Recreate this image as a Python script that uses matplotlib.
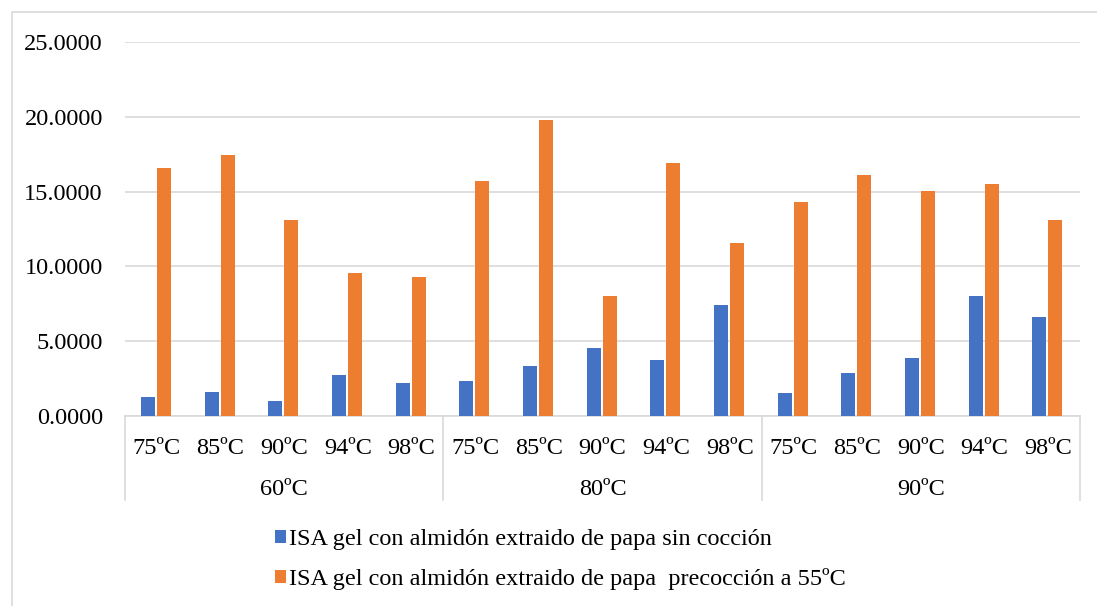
import numpy as np
import matplotlib.pyplot as plt
from matplotlib.patches import Rectangle
from matplotlib.ticker import FormatStrFormatter

# ---- Data ----
groups = ["60ºC", "80ºC", "90ºC"]
temps = ["75ºC", "85ºC", "90ºC", "94ºC", "98ºC"]
sin_coccion = [1.27, 1.60, 1.00, 2.74, 2.20,
               2.36, 3.32, 4.55, 3.77, 7.44,
               1.56, 2.90, 3.86, 8.00, 6.60]
precoccion = [16.58, 17.45, 13.10, 9.56, 9.29,
              15.70, 19.76, 8.00, 16.90, 11.54,
              14.28, 16.09, 15.02, 15.49, 13.10]
series_names = ["ISA gel con almidón extraido de papa sin cocción",
                "ISA gel con almidón extraido de papa  precocción a 55ºC"]

plt.rcParams['font.family'] = ['Liberation Serif', 'DejaVu Serif']
grid_col = "#d9d9d9"
fs = 17.5

fig = plt.figure(figsize=(10.97, 6.06), dpi=100)
W, H = 1097, 606
ax = fig.add_axes([125 / W, 1 - 416 / H, 955 / W, 374 / H])

x = np.arange(len(sin_coccion))
bw = 0.22
ax.bar(x - 0.14, sin_coccion, width=bw, color="#4472C4", label=series_names[0], zorder=3)
ax.bar(x + 0.115, precoccion, width=bw, color="#ED7D31", label=series_names[1], zorder=3)

ax.set_xlim(-0.5, len(x) - 0.5)
ax.set_ylim(0, 25)
ax.set_yticks(np.arange(0, 25.1, 5))
ax.yaxis.set_major_formatter(FormatStrFormatter("%.4f"))
ax.grid(axis="y", color=grid_col, lw=1.2, zorder=0)
for s in ["left", "right", "top"]:
    ax.spines[s].set_visible(False)
ax.spines["bottom"].set_color(grid_col)
ax.spines["bottom"].set_linewidth(1.2)
ax.tick_params(axis="y", length=0, labelsize=fs, pad=16)
ax.tick_params(axis="x", length=0, labelsize=fs, pad=16)
ax.set_xticks(x)
ax.set_xticklabels(temps * len(groups))

# group separators and labels
trans = ax.get_xaxis_transform()
n = len(temps)
for i in range(len(groups) + 1):
    ax.plot([i * n - 0.5] * 2, [0, -0.225], transform=trans, color=grid_col,
            lw=1.2, clip_on=False)
for i, g in enumerate(groups):
    ax.text(i * n + (n - 1) / 2, -0.197, g, transform=trans, ha="center",
            va="center", fontsize=fs)

# legend
fig.legend(loc="upper left", bbox_to_anchor=(253 / W, 1 - 507 / H), frameon=False,
           fontsize=fs, handlelength=0.45, handleheight=0.45, handletextpad=0.15,
           labelspacing=0.75)

# outer border
fig.add_artist(Rectangle((12 / W, -0.01), 1.0, 1 - 12 / H + 0.01, transform=fig.transFigure,
                         fill=False, edgecolor=grid_col, lw=1.2))

fig.savefig("out.png", dpi=100)
